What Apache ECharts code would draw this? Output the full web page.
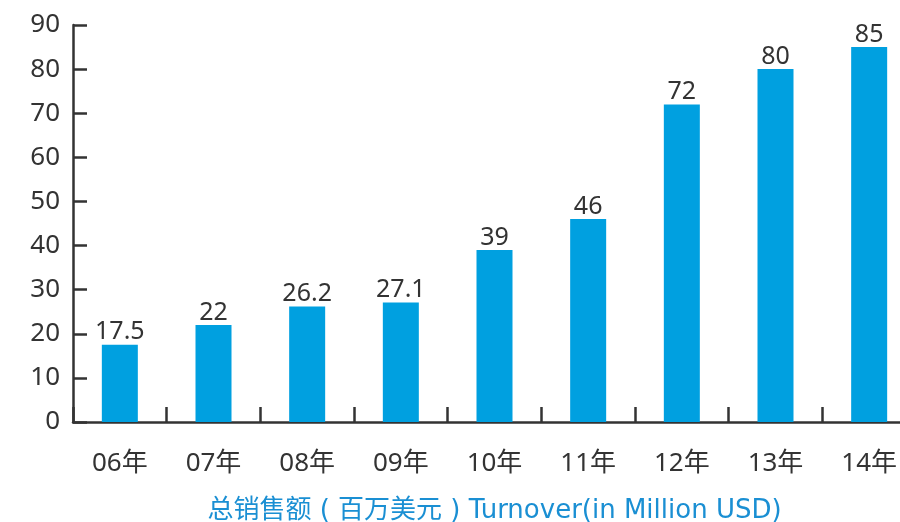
<!DOCTYPE html>
<html><head><meta charset="utf-8">
<script src="https://cdn.jsdelivr.net/npm/echarts@6/dist/echarts.min.js"></script>
<style>html,body{margin:0;padding:0;background:#fff}#c{width:900px;height:522px}</style>
</head><body><div id="c"></div>
<script>
const categories = ['06年','07年','08年','09年','10年','11年','12年','13年','14年'];
const turnover = [17.5, 22, 26.2, 27.1, 39, 46, 72, 80, 85];
const xAxisName = '总销售额 ( 百万美元 ) Turnover(in Million USD)';

const FONT = '"Noto Sans", "Noto Sans CJK SC", sans-serif';
const chart = echarts.init(document.getElementById('c'), null, {renderer:'canvas'});
chart.setOption({
  animation: false,
  backgroundColor: '#fff',
  grid: { left: 73, top: 25, width: 843, height: 397, containLabel: false, outerBoundsMode: 'none' },
  xAxis: {
    type: 'category',
    data: categories,
    name: xAxisName,
    nameLocation: 'middle',
    nameGap: 76,
    nameTextStyle: { color: '#1a8fd3', fontSize: 26, fontFamily: '"DejaVu Sans", "Noto Sans CJK SC", sans-serif' },
    axisLine: { show: true, lineStyle: { color: '#333', width: 2.5 } },
    axisTick: { show: true, inside: true, length: 15, alignWithLabel: false, interval: 0, lineStyle: { color: '#333', width: 2.5 } },
    axisLabel: { color: '#333', fontSize: 26, margin: 29, fontFamily: FONT },
    splitLine: { show: false }
  },
  yAxis: {
    type: 'value',
    min: 0, max: 90, interval: 10,
    axisLine: { show: true, lineStyle: { color: '#333', width: 2.5 } },
    axisTick: { show: true, inside: true, length: 14, lineStyle: { color: '#333', width: 2.5 } },
    axisLabel: { color: '#333', fontSize: 26, margin: 13, fontFamily: FONT },
    splitLine: { show: false }
  },
  series: [{
    type: 'bar',
    data: turnover,
    barWidth: 36,
    itemStyle: { color: '#00a0e0' },
    label: { show: true, position: 'top', distance: 0, color: '#333', fontSize: 25, fontFamily: FONT }
  }]
});
</script></body></html>
